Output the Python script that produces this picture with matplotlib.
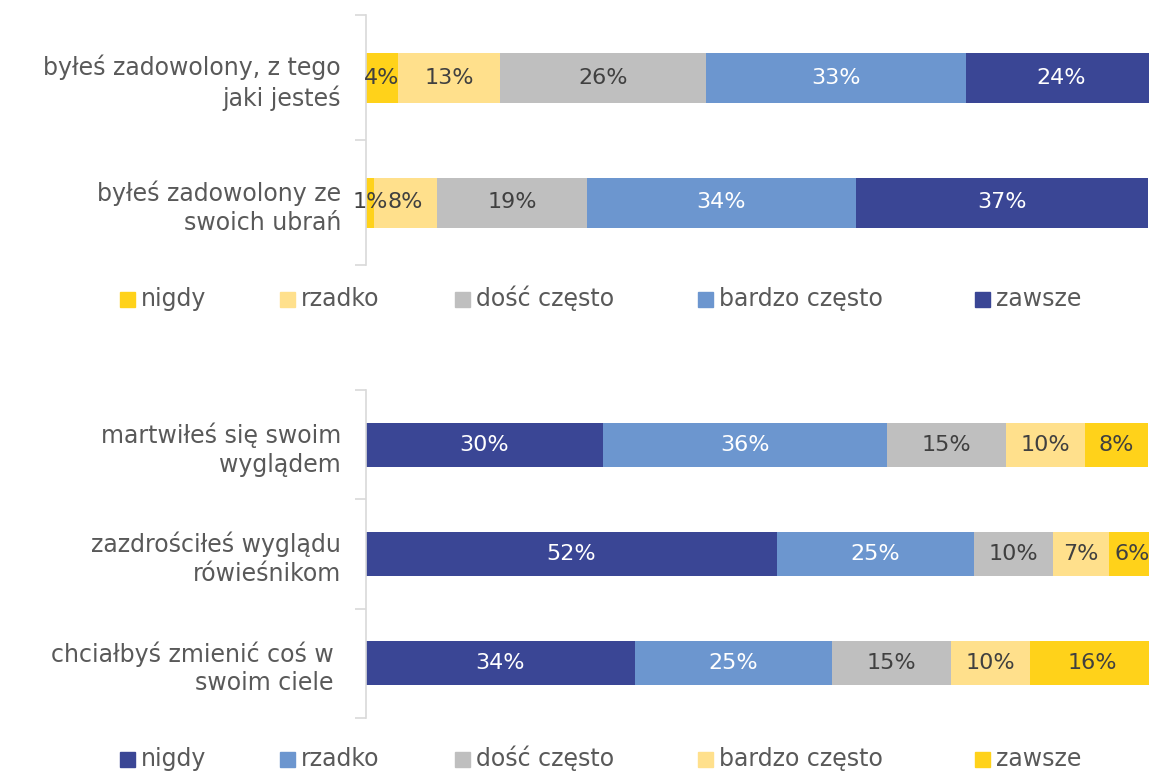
import matplotlib.pyplot as plt
from matplotlib.patches import Rectangle
import numpy as np

# top chart
top_questions = ["byłeś zadowolony, z tego\njaki jesteś", "byłeś zadowolony ze\nswoich ubrań"]
top_series = ["nigdy", "rzadko", "dość często", "bardzo często", "zawsze"]
top_values = {
    "nigdy": [4, 1],
    "rzadko": [13, 8],
    "dość często": [26, 19],
    "bardzo często": [33, 34],
    "zawsze": [24, 37],
}
top_colors = ["#FFD21A", "#FFE08C", "#BFBFBF", "#6C96CF", "#3A4695"]

# bottom chart
bottom_questions = ["martwiłeś się swoim\nwyglądem", "zazdrościłeś wyglądu\nrówieśnikom",
                    "chciałbyś zmienić coś w \nswoim ciele "]
bottom_series = ["nigdy", "rzadko", "dość często", "bardzo często", "zawsze"]
bottom_values = {
    "nigdy": [30, 52, 34],
    "rzadko": [36, 25, 25],
    "dość często": [15, 10, 15],
    "bardzo często": [10, 7, 10],
    "zawsze": [8, 6, 16],
}
bottom_colors = ["#3A4695", "#6C96CF", "#BFBFBF", "#FFE08C", "#FFD21A"]

TEXT = "#595959"
W, H = 1149, 775
plt.rcParams["font.family"] = ["DejaVu Sans"]

fig = plt.figure(figsize=(W / 100, H / 100), dpi=100)

# legend entry x positions (pixels)
legend_x = [120, 280, 455, 698, 975]


def px_axes(x0, y0, x1, y1):
    return fig.add_axes([x0 / W, 1 - y1 / H, (x1 - x0) / W, (y1 - y0) / H])


def stacked(ax, questions, series, values, colors, legend_y):
    y = np.arange(len(questions))
    left = np.zeros(len(questions))
    for name, col in zip(series, colors):
        vals = np.array(values[name], dtype=float)
        ax.barh(y, vals, left=left, height=0.4, color=col, label=name)
        txt_col = "white" if col in ("#3A4695", "#6C96CF") else "#404040"
        for yi, l, v in zip(y, left, vals):
            ax.text(l + v / 2, yi, f"{v:.0f}%", ha="center", va="center",
                    fontsize=16, color=txt_col, clip_on=False)
        left += vals
    ax.set_xlim(0, 100)
    ax.set_ylim(len(questions) - 0.5, -0.5)
    ax.set_yticks(y)
    ax.set_yticklabels(questions, fontsize=17, color=TEXT, ha="right",
                       multialignment="right", linespacing=1.25)
    ax.set_yticks(np.arange(len(questions) + 1) - 0.5, minor=True)
    ax.tick_params(axis="y", which="major", length=0, pad=18)
    ax.tick_params(axis="y", which="minor", length=8, color="#D9D9D9", width=1.2)
    ax.set_xticks([])
    for s in ("top", "right", "bottom"):
        ax.spines[s].set_visible(False)
    ax.spines["left"].set_color("#D9D9D9")
    ax.spines["left"].set_linewidth(1.2)

    # legend row
    for name, col, lx in zip(series, colors, legend_x):
        fig.patches.append(Rectangle((lx / W, 1 - (legend_y + 7) / H), 15 / W, 15 / H,
                                     transform=fig.transFigure, color=col))
        fig.text((lx + 21) / W, 1 - (legend_y + 6) / H, name, fontsize=17, color=TEXT,
                 ha="left", va="baseline")


ax1 = px_axes(366, 15, 1156, 265)
stacked(ax1, top_questions, top_series, top_values, top_colors, 300)

ax2 = px_axes(366, 390, 1156, 718)
stacked(ax2, bottom_questions, bottom_series, bottom_values, bottom_colors, 760)

fig.savefig("out.png", dpi=100)
